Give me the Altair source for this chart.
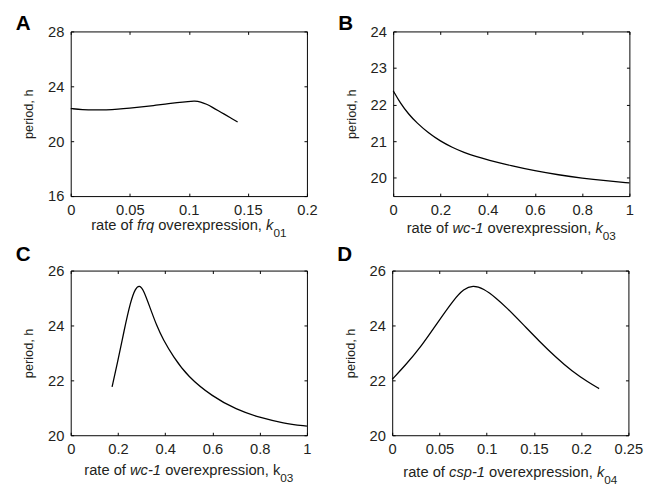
import altair as alt
import pandas as pd

# ---------------- data ----------------
a_x = [0, 0.01, 0.02, 0.03, 0.04, 0.05, 0.06, 0.07, 0.08, 0.09, 0.10, 0.105, 0.11, 0.115, 0.12, 0.125, 0.13, 0.135, 0.1413]
a_y = [22.38, 22.30, 22.27, 22.28, 22.33, 22.41, 22.50, 22.60, 22.70, 22.81, 22.90, 22.93, 22.87, 22.70, 22.47, 22.22, 21.97, 21.72, 21.40]

b_x = [0, 0.03, 0.065, 0.1, 0.15, 0.2, 0.25, 0.3, 0.35, 0.4, 0.5, 0.6, 0.7, 0.8, 0.9, 1.0]
b_y = [22.38, 22.04, 21.74, 21.50, 21.22, 21.00, 20.83, 20.69, 20.58, 20.49, 20.33, 20.19, 20.08, 19.99, 19.92, 19.86]

c_x = [0.175, 0.198, 0.226, 0.253, 0.274, 0.291, 0.308, 0.336, 0.364, 0.391, 0.433, 0.495, 0.6, 0.7, 0.8, 0.9, 1.0]
c_y = [21.76, 22.64, 23.82, 24.87, 25.36, 25.47, 25.30, 24.64, 23.99, 23.49, 22.88, 22.14, 21.41, 20.94, 20.64, 20.44, 20.33]

d_x = [0, 0.0132, 0.0306, 0.0479, 0.0653, 0.0757, 0.0854, 0.0965, 0.1104, 0.1208, 0.1382, 0.1556, 0.1729, 0.1903, 0.2076, 0.219]
d_y = [22.04, 22.52, 23.23, 24.10, 24.95, 25.33, 25.47, 25.35, 24.99, 24.66, 24.05, 23.43, 22.85, 22.33, 21.93, 21.70]

a_xticks = [0, 0.05, 0.1, 0.15, 0.2]
a_yticks = [16, 20, 24, 28]
b_xticks = [0, 0.2, 0.4, 0.6, 0.8, 1]
b_yticks = [20, 21, 22, 23, 24]
c_xticks = [0, 0.2, 0.4, 0.6, 0.8, 1]
c_yticks = [20, 22, 24, 26]
d_xticks = [0, 0.05, 0.1, 0.15, 0.2, 0.25]
d_yticks = [20, 22, 24, 26]

letters = ["A", "B", "C", "D"]
y_title = "period, h"
# x-axis titles as (text, style) segments: n = normal, i = italic, sub = subscript
a_title = [("rate of ", "n"), ("frq", "i"), (" overexpression, ", "n"), ("k", "i"), ("01", "sub")]
b_title = [("rate of ", "n"), ("wc-1", "i"), (" overexpression, ", "n"), ("k", "i"), ("03", "sub")]
c_title = [("rate of ", "n"), ("wc-1", "i"), (" overexpression, ", "n"), ("k", "n"), ("03", "sub")]
d_title = [("rate of ", "n"), ("csp-1", "i"), (" overexpression, ", "n"), ("k", "i"), ("04", "sub")]

# ---------------- styling ----------------
FONT = "Liberation Sans"
TXT = "#231f20"
W, H = 241, 168
FS_MAIN, FS_SUB = 15, 12

# Arial / Liberation Sans advance widths (per 1000 em)
ADV = {'a': 556, 'c': 500, 'e': 556, 'f': 278, 'i': 222, 'k': 500, 'n': 556, 'o': 556,
       'p': 556, 'q': 556, 'r': 333, 's': 500, 't': 278, 'v': 500, 'w': 722, 'x': 500,
       ' ': 278, ',': 278, '-': 333, '0': 556, '1': 556, '3': 556, '4': 556}


def tw(s, size):
    return sum(ADV.get(ch, 556) for ch in s) * size / 1000.0


AX = dict(domain=False, grid=False, tickSize=3, offset=-3, tickColor="black", tickWidth=1,
          labelFont=FONT, labelFontSize=FS_MAIN, labelColor=TXT, labelFlush=False,
          labelOverlap=False, format="~g")


def title_layers(segs, dy):
    sizes = [FS_SUB if st == "sub" else FS_MAIN for _, st in segs]
    total = sum(tw(t, s) for (t, _), s in zip(segs, sizes))
    x = W / 2 - total / 2
    out = []
    for (t, st), s in zip(segs, sizes):
        lead = len(t) - len(t.lstrip(" "))
        px = x + tw(" " * lead, s)
        py = H + dy + (7 if st == "sub" else 0)
        out.append(
            alt.Chart(pd.DataFrame({"t": [t.strip()]}))
            .mark_text(align="left", baseline="alphabetic", font=FONT, fontSize=s,
                       fontStyle="italic" if st == "i" else "normal", color=TXT)
            .encode(text="t:N", x=alt.value(px), y=alt.value(py))
        )
        x += tw(t, s)
    return out


def panel(xs, ys, xdom, ydom, xt, yt, letter, letter_dy, segs, title_dy):
    df = pd.DataFrame({"x": xs, "y": ys})
    xsc = alt.Scale(domain=xdom, nice=False, zero=False)
    ysc = alt.Scale(domain=ydom, nice=False, zero=False)
    base = alt.Chart(df)
    frame = base.mark_line(opacity=0).encode(
        x=alt.X("x:Q", scale=xsc, axis=alt.Axis(orient="top", values=xt, labels=False, title=None, **AX)),
        y=alt.Y("y:Q", scale=ysc, axis=alt.Axis(orient="right", values=yt, labels=False, title=None, **AX)),
    )
    line = base.mark_line(color="black", strokeWidth=1.3, interpolate="basis").encode(
        x=alt.X("x:Q", scale=xsc, axis=alt.Axis(orient="bottom", values=xt, title=None, labelPadding=7, **AX)),
        y=alt.Y("y:Q", scale=ysc, axis=alt.Axis(orient="left", values=yt, title=y_title, labelPadding=7,
                                                titleFont=FONT, titleFontSize=13, titleFontWeight="normal",
                                                titleColor=TXT, titlePadding=12, **AX)),
    )
    let = alt.Chart(pd.DataFrame({"t": [letter]})).mark_text(
        align="left", baseline="alphabetic", font=FONT, fontSize=21, fontWeight="bold", color="black"
    ).encode(text="t:N", x=alt.value(-56), y=alt.value(letter_dy))
    return alt.layer(frame, line, let, *title_layers(segs, title_dy)).resolve_axis(
        x="independent", y="independent").properties(width=W, height=H)


pa = panel(a_x, a_y, [0, 0.2], [16, 28], a_xticks, a_yticks, letters[0], -1, a_title, 35)
pb = panel(b_x, b_y, [0, 1], [19.5, 24], b_xticks, b_yticks, letters[1], -1, b_title, 38)
pc = panel(c_x, c_y, [0, 1], [20, 26], c_xticks, c_yticks, letters[2], -10, c_title, 41)
pd_ = panel(d_x, d_y, [0, 0.25], [20, 26], d_xticks, d_yticks, letters[3], -10, d_title, 43)

row1 = alt.hconcat(pa, pb, spacing=20)
row2 = alt.hconcat(pc, pd_, spacing=25)
chart = alt.vconcat(row1, row2, spacing=0).properties(
    padding={"left": 7, "top": 0, "right": 5, "bottom": 0},
    background="white",
).configure_view(stroke="black", strokeWidth=1)

chart.save("out.html", embed_options={"renderer": "svg", "actions": False})
